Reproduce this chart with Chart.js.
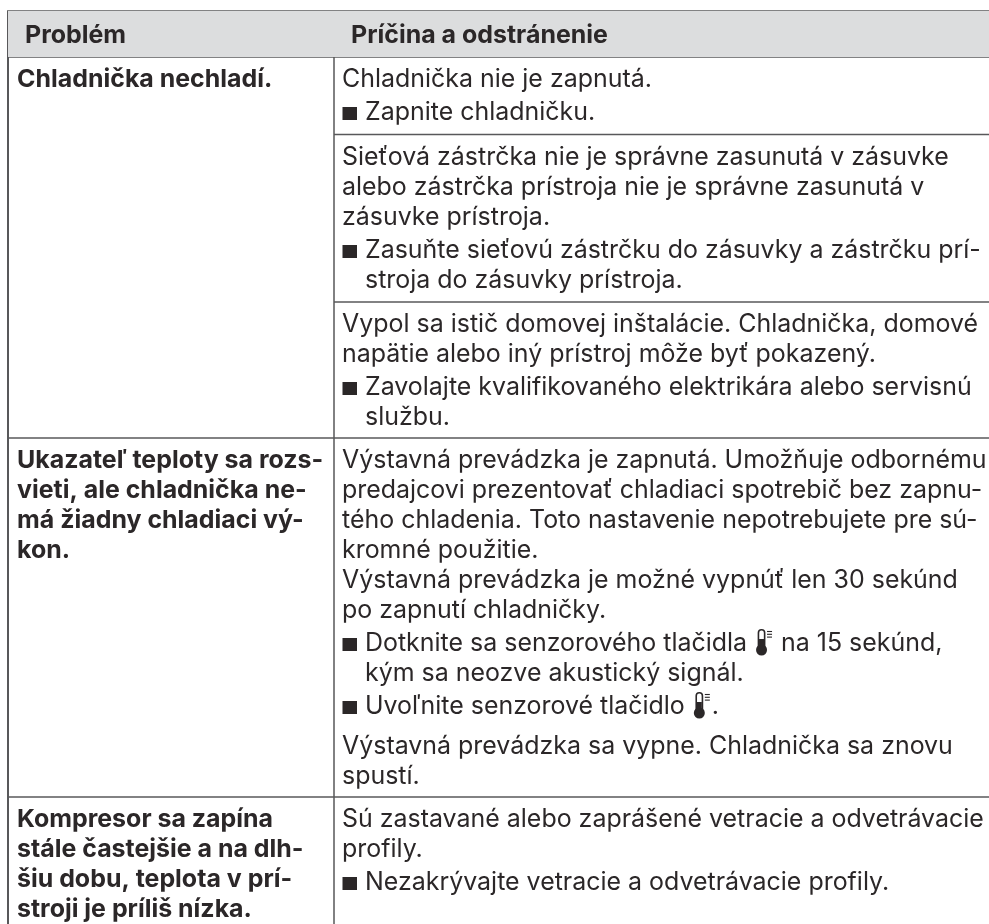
<!DOCTYPE html>
<html>
<head>
<meta charset="utf-8">
<style>
  html, body { margin: 0; padding: 0; background: #fff; }
  canvas { display: block; }
</style>
<script src="https://cdn.jsdelivr.net/npm/chart.js@4"></script>
</head>
<body>
<canvas id="tableChart" width="989" height="924"></canvas>
<script>
// Table content
const headers = ['Problém', 'Príčina a odstránenie'];

const problems = [
    ['Chladnička nechladí.'],
    ['Ukazateľ teploty sa rozs-', 'vieti, ale chladnička ne-', 'má žiadny chladiaci vý-', 'kon.'],
    ['Kompresor sa zapína', 'stále častejšie a na dlh-', 'šiu dobu, teplota v prí-', 'stroji je príliš nízka.']
];

// one list per problem, one sub-list per cell. "■ " = bullet, "  " = bullet continuation, {t} = thermometer icon
const causes = [
    [
        ['Chladnička nie je zapnutá.', '■ Zapnite chladničku.'],
        ['Sieťová zástrčka nie je správne zasunutá v zásuvke', 'alebo zástrčka prístroja nie je správne zasunutá v', 'zásuvke prístroja.', '■ Zasuňte sieťovú zástrčku do zásuvky a zástrčku prí-', '  stroja do zásuvky prístroja.'],
        ['Vypol sa istič domovej inštalácie. Chladnička, domové', 'napätie alebo iný prístroj môže byť pokazený.', '■ Zavolajte kvalifikovaného elektrikára alebo servisnú', '  službu.']
    ],
    [
        ['Výstavná prevádzka je zapnutá. Umožňuje odbornému', 'predajcovi prezentovať chladiaci spotrebič bez zapnu-', 'tého chladenia. Toto nastavenie nepotrebujete pre sú-', 'kromné použitie.', 'Výstavná prevádzka je možné vypnúť len 30 sekúnd', 'po zapnutí chladničky.', '■ Dotknite sa senzorového tlačidla {t} na 15 sekúnd,', '  kým sa neozve akustický signál.', '■ Uvoľnite senzorové tlačidlo {t}.', 'Výstavná prevádzka sa vypne. Chladnička sa znovu', 'spustí.']
    ],
    [
        ['Sú zastavané alebo zaprášené vetracie a odvetrávacie', 'profily.', '■ Nezakrývajte vetracie a odvetrávacie profily.']
    ]
];

// Flow layout, everything in scale units (1 unit = 1 px)
const TOP = 11, HEAD_BOTTOM = 57, LEFT = 8, COL = 334, RIGHT = 989, BOTTOM = 924;
const PITCH = 30, BULLET_GAP = 3, PARA_GAP = 10, CELL_TOP = 30, CELL_BOTTOM = 14.5, ROW_BOTTOM = 13;
const TEXT_COLOR = '#2b2728', RULE_COLOR = '#58585a';

const textItems = [];
const rowRules = [HEAD_BOTTOM];
const cellRules = [];
let cursor = HEAD_BOTTOM;

headers.forEach((h, i) => {
    textItems.push({ text: h, x: i === 0 ? 25 : 351, y: 43, bold: true });
});

causes.forEach((cells, row) => {
    problems[row].forEach((line, i) => {
        textItems.push({ text: line, x: 17, y: cursor + CELL_TOP + i * PITCH, bold: true });
    });
    cells.forEach((lines, c) => {
        let y = cursor + CELL_TOP;
        lines.forEach((line, i) => {
            const bullet = line.startsWith('■ ');
            const cont = line.startsWith('  ');
            if (i > 0) {
                y += PITCH;
                if (bullet) y += BULLET_GAP;
                if (!bullet && !cont && /^(■ |  )/.test(lines[i - 1])) y += PARA_GAP;
            }
            textItems.push({ text: line.replace(/^(■ |  )/, ''), x: bullet || cont ? 365 : 342, y: y, bullet: bullet });
        });
        if (c < cells.length - 1) {
            cursor = y + CELL_BOTTOM;
            cellRules.push(cursor);
        } else {
            cursor = y + ROW_BOTTOM;
        }
    });
    if (row < causes.length - 1) rowRules.push(cursor);
});

function rule(x1, y1, x2, y2, width) {
    return {
        data: [{ x: x1, y: y1 }, { x: x2, y: y2 }],
        showLine: true,
        pointRadius: 0,
        borderColor: RULE_COLOR,
        borderWidth: width
    };
}

const datasets = [
    {
        data: [{ x: LEFT, y: TOP }, { x: RIGHT, y: TOP }],
        showLine: true,
        pointRadius: 0,
        borderWidth: 0,
        backgroundColor: '#dcddde',
        fill: { value: HEAD_BOTTOM }
    },
    rule(LEFT - 1, TOP, RIGHT, TOP, 1.5),
    rule(LEFT, TOP, LEFT, BOTTOM, 2),
    rule(COL, TOP, COL, BOTTOM, 1.5)
];
rowRules.forEach(y => datasets.push(rule(LEFT, y, RIGHT, y, 1.5)));
cellRules.forEach(y => datasets.push(rule(COL, y, RIGHT, y, 1.5)));

function drawThermo(ctx, x, baseline) {
    const top = baseline - 22, bulbY = baseline - 1;
    ctx.save();
    ctx.fillStyle = TEXT_COLOR;
    ctx.strokeStyle = TEXT_COLOR;
    ctx.lineWidth = 1.6;
    ctx.beginPath();
    ctx.roundRect(x + 2.4, top + 0.8, 6.2, 20, 3);
    ctx.stroke();
    ctx.beginPath();
    ctx.arc(x + 5.5, bulbY, 5.5, 0, Math.PI * 2);
    ctx.fill();
    ctx.fillRect(x + 3, baseline - 12, 5, 10);
    ctx.lineWidth = 1.1;
    [0, 1, 2].forEach(i => {
        ctx.beginPath();
        ctx.moveTo(x + 11, top + 2.5 + i * 2.8);
        ctx.lineTo(x + 16, top + 2.5 + i * 2.8);
        ctx.stroke();
    });
    ctx.restore();
}

const tableText = {
    id: 'tableText',
    afterDatasetsDraw(chart) {
        const { ctx, scales } = chart;
        ctx.save();
        ctx.textBaseline = 'alphabetic';
        ctx.fillStyle = TEXT_COLOR;
        textItems.forEach(item => {
            const px = scales.x.getPixelForValue(item.x);
            const py = Math.round(scales.y.getPixelForValue(item.y));
            ctx.font = (item.bold ? '700 ' : '400 ') + '24.95px Inter';
            if (item.bullet) {
                ctx.fillRect(scales.x.getPixelForValue(342.5), py - 13, 14.5, 13);
            }
            const parts = item.text.split('{t}');
            let cx = px;
            parts.forEach((part, i) => {
                ctx.fillText(part, cx, py);
                cx += ctx.measureText(part).width;
                if (i < parts.length - 1) {
                    drawThermo(ctx, cx + 2, py);
                    cx += 20;
                }
            });
        });
        ctx.restore();
    }
};

new Chart(document.getElementById('tableChart'), {
    type: 'scatter',
    data: { datasets: datasets },
    options: {
        responsive: false,
        animation: false,
        layout: { padding: 0 },
        plugins: { legend: { display: false }, tooltip: { enabled: false }, title: { display: false } },
        scales: {
            x: { type: 'linear', display: false, min: 0, max: 989 },
            y: { type: 'linear', display: false, min: 0, max: 924, reverse: true }
        }
    },
    plugins: [tableText]
});
</script>
</body>
</html>
